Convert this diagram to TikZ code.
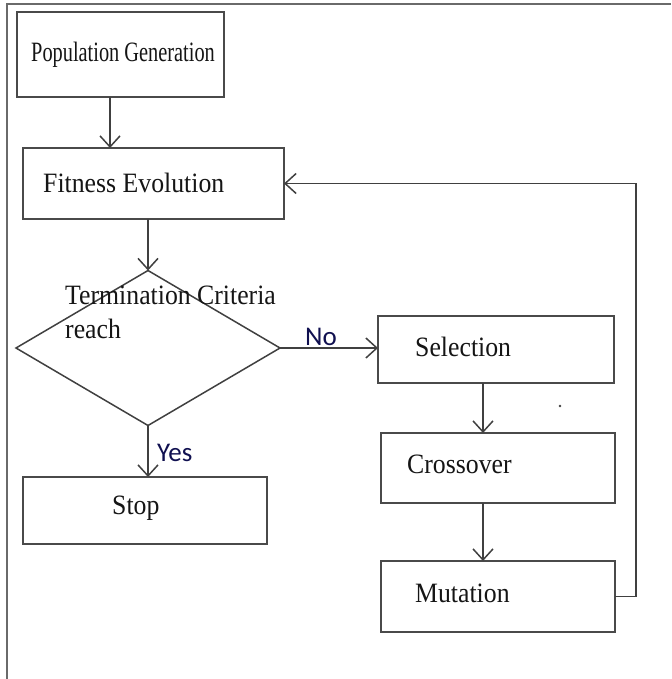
\documentclass[tikz,border=0pt]{standalone}
\usepackage{fontspec}
\usepackage{graphicx}
\setmainfont[FakeStretch=0.92]{Liberation Serif}
\newfontfamily\lblfont{Carlito}
\usetikzlibrary{arrows.meta,shapes.geometric}

\definecolor{boxline}{HTML}{4A4A4A}
\definecolor{arrline}{HTML}{404040}
\definecolor{frameline}{HTML}{6A6A6A}
\definecolor{txt}{HTML}{151515}

\tikzset{
  stepbox/.style={draw=boxline, line width=2.4pt, rectangle, outer sep=0pt,
                  inner sep=0pt, fill=white},
  decision/.style={draw=arrline, line width=1.5pt, diamond, outer sep=0pt,
                   inner sep=0pt, minimum width=264pt, minimum height=155pt},
  boxtext/.style={anchor=base west, inner sep=0pt, text=txt,
                  font=\fontsize{28}{34}\selectfont, align=left},
  edgetext/.style={anchor=base west, inner sep=0pt, text=txt!75!blue,
                   font=\lblfont\fontsize{27}{32}\selectfont},
  arr/.style={draw=arrline, line width=1.6pt,
              -{Straight Barb[length=11pt, width=20pt, line width=1.5pt]}},
}

\begin{document}
\begin{tikzpicture}[x=1pt, y=-1pt]
  \useasboundingbox (0,0) rectangle (671,679);

  % page frame (top and left edges)
  \draw[frameline, line width=1.4pt] (671,4) -- (7,4) -- (7,679);

  % process boxes
  \node[stepbox, minimum width=207pt, minimum height=85pt] (pg)   at (120.5,54.5) {};
  \node[stepbox, minimum width=261pt, minimum height=71pt] (fe)   at (153.5,183.5) {};
  \node[stepbox, minimum width=244pt, minimum height=67pt] (stop) at (145,510.5) {};
  \node[stepbox, minimum width=236pt, minimum height=67pt] (sel)  at (496,349.5) {};
  \node[stepbox, minimum width=234pt, minimum height=70pt] (cro)  at (498,468) {};
  \node[stepbox, minimum width=234pt, minimum height=71pt] (mut)  at (498,596.5) {};

  % decision
  \node[decision] (dia) at (148,348) {};

  % box labels
  \node[boxtext] (tpg)   at (31,62)   {\scalebox{0.79}[1]{Population Generation}};
  \node[boxtext] (tfe)   at (43,192)  {Fitness Evolution};
  \node[boxtext] (tdia)  at (65,338)  {Termination Criteria\\reach};
  \node[boxtext] (tstop) at (112,514) {Stop};
  \node[boxtext] (tsel)  at (415,356) {Selection};
  \node[boxtext] (tcro)  at (407,473) {Crossover};
  \node[boxtext] (tmut)  at (415,602) {Mutation};

  % edge labels
  \node[edgetext] (lno)  at (305,345) {No};
  \node[edgetext] (lyes) at (157,461) {Yes};

  % guide coordinates for the vertical connectors
  \coordinate (c1) at (110,0);
  \coordinate (c2) at (483,0);
  \coordinate (loop) at (636,0);

  % connectors
  \draw[arr] (pg.south -| c1) -- (fe.north -| c1);
  \draw[arr] (fe.south -| dia.north) -- (dia.north);
  \draw[arr] (dia.south) -- (dia.south |- stop.north);
  \draw[arr] (dia.east) -- (dia.east -| sel.west);
  \draw[arr] (sel.south -| c2) -- (cro.north -| c2);
  \draw[arr] (cro.south -| c2) -- (mut.north -| c2);
  \draw[arr] (mut.east) -| (loop |- fe.east) -- (fe.east);

  % small speck beside the selection box
  \fill[arrline] (560,406) circle (1.3pt);
\end{tikzpicture}
\end{document}
